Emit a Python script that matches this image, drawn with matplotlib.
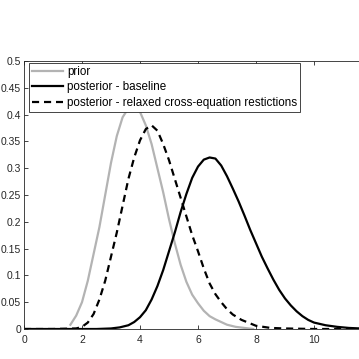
import matplotlib

matplotlib.use("Agg")
import matplotlib.pyplot as plt

plt.rcParams["font.family"] = ["Liberation Sans", "DejaVu Sans"]

# densities
prior_x = [1.6, 1.8, 2.0, 2.2, 2.4, 2.6, 2.8, 3.0, 3.2, 3.4, 3.6, 3.8, 4.0, 4.2, 4.4,
           4.6, 4.8, 5.0, 5.2, 5.4, 5.6, 5.8, 6.0, 6.2, 6.4, 6.6, 6.8, 7.0, 7.3, 7.6, 7.9]
prior_y = [0.008, 0.025, 0.05, 0.09, 0.14, 0.19, 0.25, 0.31, 0.36, 0.395, 0.412, 0.415,
           0.405, 0.38, 0.345, 0.30, 0.255, 0.205, 0.16, 0.12, 0.088, 0.064, 0.048, 0.034,
           0.024, 0.018, 0.013, 0.008, 0.004, 0.002, 0.0]

base_x = [0.0, 2.5, 3.0, 3.3, 3.6, 3.8, 4.0, 4.2, 4.4, 4.6, 4.8, 5.0, 5.2, 5.4, 5.6, 5.8,
          6.0, 6.2, 6.4, 6.6, 6.8, 7.0, 7.2, 7.4, 7.6, 7.8, 8.0, 8.2, 8.4, 8.6, 8.8, 9.0,
          9.2, 9.4, 9.6, 9.8, 10.0, 10.4, 10.8, 11.2, 11.6, 12.0]
base_y = [0.0, 0.0, 0.001, 0.003, 0.007, 0.013, 0.022, 0.035, 0.055, 0.08, 0.11, 0.145,
          0.18, 0.218, 0.252, 0.282, 0.303, 0.316, 0.32, 0.318, 0.305, 0.285, 0.262, 0.238,
          0.212, 0.185, 0.16, 0.135, 0.113, 0.092, 0.073, 0.057, 0.044, 0.033, 0.024, 0.017,
          0.012, 0.007, 0.004, 0.002, 0.001, 0.0]

relax_x = [0.0, 1.0, 1.8, 2.0, 2.2, 2.4, 2.6, 2.8, 3.0, 3.2, 3.4, 3.6, 3.8, 4.0, 4.2, 4.4,
           4.6, 4.8, 5.0, 5.2, 5.4, 5.6, 5.8, 6.0, 6.2, 6.4, 6.6, 6.8, 7.0, 7.2, 7.5, 8.0,
           8.5, 9.0, 10.0, 12.0]
relax_y = [0.0, 0.0, 0.001, 0.004, 0.012, 0.028, 0.055, 0.09, 0.135, 0.18, 0.23, 0.28,
           0.32, 0.352, 0.373, 0.38, 0.37, 0.345, 0.315, 0.28, 0.245, 0.21, 0.175, 0.145,
           0.113, 0.085, 0.065, 0.05, 0.037, 0.027, 0.017, 0.006, 0.002, 0.001, 0.0, 0.0]

labels = ["prior", "posterior - baseline", "posterior - relaxed cross-equation restictions"]
yticks = [0, 0.05, 0.1, 0.15, 0.2, 0.25, 0.3, 0.35, 0.4, 0.45, 0.5]
ytick_labels = ["0", "0.05", "0.1", "0.15", "0.2", "0.25", "0.3", "0.35", "0.4", "0.45", "0.5"]
xticks = [0, 2, 4, 6, 8, 10]

W = H = 359
fig = plt.figure(figsize=(W / 100, H / 100), dpi=100)
# axes run past the right edge of the picture, as in the reference
ax = fig.add_axes([24 / W, 30 / H, 348 / W, 268 / H])

ax.plot(prior_x, prior_y, color=(0.7, 0.7, 0.7), lw=1.6, label=labels[0])
ax.plot(base_x, base_y, color="black", lw=1.6, label=labels[1])
ax.plot(relax_x, relax_y, color="black", lw=1.6, ls=(0, (3.2, 2.2)), label=labels[2])

ax.set_xlim(0, 12)
ax.set_ylim(0, 0.5)
ax.set_xticks(xticks)
ax.set_yticks(yticks)
ax.set_yticklabels(ytick_labels)
axcol = (0.15, 0.15, 0.15)
for s in ax.spines.values():
    s.set_color(axcol)
    s.set_linewidth(0.6)
ax.tick_params(direction="in", length=3, width=0.6, color=axcol, labelcolor=axcol,
               labelsize=7.5, top=True, right=True, pad=2)
ax.tick_params(axis="x", pad=4)

leg = ax.legend(loc="upper left", bbox_to_anchor=(29 / W, (H - 63) / H),
                bbox_transform=fig.transFigure, borderaxespad=0, fontsize=8.4,
                frameon=True, fancybox=False, framealpha=1, edgecolor=axcol,
                handlelength=2.7, handletextpad=0.3, labelspacing=0.3, borderpad=0.25)
leg.get_frame().set_linewidth(0.6)

fig.savefig("out.png", dpi=100)
